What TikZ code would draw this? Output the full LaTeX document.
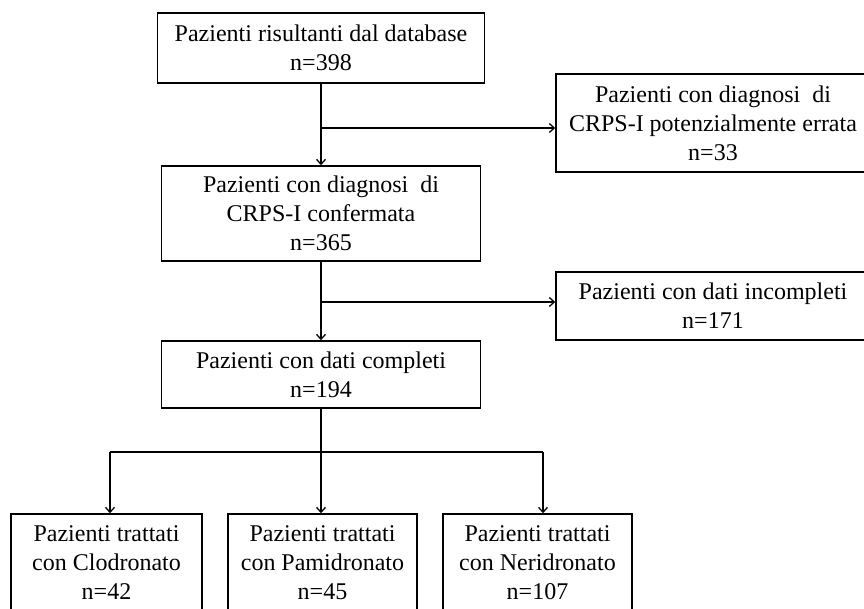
\documentclass[tikz,border=0pt]{standalone}
\usepackage{fontspec}
\setmainfont{Liberation Serif}
\usetikzlibrary{arrows.meta}

\begin{document}
\begin{tikzpicture}[x=1pt, y=-1pt, >={Straight Barb[length=5pt,width=9pt]},
	box/.style={draw, line width=1.5pt, align=center, inner sep=0pt, font=\fontsize{24}{29}\selectfont},
	link/.style={line width=1.3pt}]
	\useasboundingbox (0,0) rectangle (864,608);
	\clip (0,0) rectangle (864,608);

	% caselle principali
	\node[box, minimum width=327pt, minimum height=70pt] (db) at (321,48) {Pazienti risultanti dal database\\n=398};
	\node[box, minimum width=319pt, minimum height=95pt] (conf) at (321,213.5) {Pazienti con diagnosi\ \ di\\CRPS-I confermata\\n=365};
	\node[box, minimum width=319pt, minimum height=67pt] (comp) at (321,374.5) {Pazienti con dati completi\\n=194};

	% caselle di esclusione
	\node[box, minimum width=314pt, minimum height=98pt] (err) at (713,123) {Pazienti con diagnosi\ \ di\\CRPS-I potenzialmente errata\\n=33};
	\node[box, minimum width=314pt, minimum height=68pt] (inc) at (713,306) {Pazienti con dati incompleti\\n=171};

	% trattamenti
	\node[box, minimum width=191pt, minimum height=98pt] (clo) at (106.5,563) {Pazienti trattati\\con Clodronato\\n=42};
	\node[box, minimum width=189pt, minimum height=98pt] (pam) at (322.5,563) {Pazienti trattati\\con Pamidronato\\n=45};
	\node[box, minimum width=189pt, minimum height=98pt] (ner) at (537.5,563) {Pazienti trattati\\con Neridronato\\n=107};

	% frecce
	\coordinate (b1) at (321,128);
	\coordinate (b2) at (321,302);
	\draw[link,->] (db.south) -- (conf.north);
	\draw[link,->] (b1) -- (b1 -| err.west);
	\draw[link,->] (conf.south) -- (comp.north);
	\draw[link,->] (b2) -- (b2 -| inc.west);

	% ramificazione
	\coordinate (s1) at (110,452);
	\coordinate (s3) at (543,452);
	\draw[link] (s1) -- (s3);
	\draw[link,->] (comp.south) -- (comp.south |- pam.north);
	\draw[link,->] (s1) -- (s1 |- clo.north);
	\draw[link,->] (s3) -- (s3 |- ner.north);
\end{tikzpicture}
\end{document}
